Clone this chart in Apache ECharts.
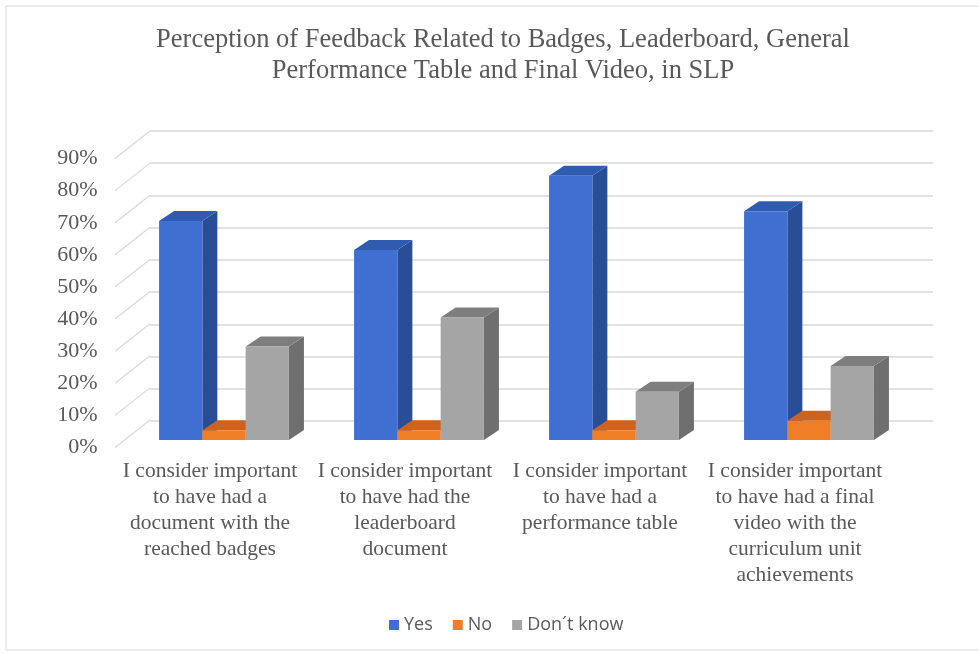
<!DOCTYPE html>
<html>
<head>
<meta charset="utf-8">
<script src="https://cdn.jsdelivr.net/npm/echarts@6/dist/echarts.min.js"></script>
<style>
html,body{margin:0;padding:0;background:#fff;}
#chart{width:979px;height:653px;}
</style>
</head>
<body>
<div id="chart"></div>
<script>
const categories = [
  "I consider important\nto have had a\ndocument with the\nreached badges",
  "I consider important\nto have had the\nleaderboard\ndocument",
  "I consider important\nto have had a\nperformance table",
  "I consider important\nto have had a final\nvideo with the\ncurriculum unit\nachievements"
];
const seriesNames = ["Yes", "No", "Don\u00b4t know"];
const yesValues = [68, 59, 82, 71];
const noValues = [3, 3, 3, 6];
const dontKnowValues = [29, 38, 15, 23];
const yTicks = [0, 10, 20, 30, 40, 50, 60, 70, 80, 90];

const DX = 15, DY = -10, BAR_FRAC = 0.222;
const palette = [
  {front: "#3F6FD0", side: "#2A4E96", top: "#2F5BB0"},
  {front: "#F07E26", side: "#C0591A", top: "#D0631C"},
  {front: "#A5A5A5", side: "#6F6F6F", top: "#7E7E7E"}
];

function makeBar(k) {
  const c = palette[k];
  return function (params, api) {
    const ci = api.value(0), v = api.value(1);
    const p = api.coord([ci, v]);
    const p0 = api.coord([ci, 0]);
    const bw = api.size([1, 0])[0] * BAR_FRAC;
    const x0 = p[0] + (k - 1.5) * bw, x1 = x0 + bw;
    const yT = p[1], yB = p0[1];
    return {
      type: "group",
      children: [
        {type: "polygon", shape: {points: [[x1, yT], [x1 + DX, yT + DY], [x1 + DX, yB + DY], [x1, yB]]}, style: {fill: c.side}},
        {type: "polygon", shape: {points: [[x0, yT], [x1, yT], [x1 + DX, yT + DY], [x0 + DX, yT + DY]]}, style: {fill: c.top}},
        {type: "rect", shape: {x: x0, y: yT, width: bw, height: yB - yT}, style: {fill: c.front}}
      ]
    };
  };
}

const valueSets = [yesValues, noValues, dontKnowValues];
const barSeries = seriesNames.map(function (name, k) {
  return {
    name: name,
    type: "custom",
    xAxisIndex: 0,
    yAxisIndex: 0,
    renderItem: makeBar(k),
    itemStyle: {color: palette[k].front},
    encode: {x: 0, y: 1},
    data: valueSets[k].map(function (v, i) { return [i, v]; }),
    z: 5
  };
});

const serif = "'Liberation Serif','Times New Roman',serif";
const labelColor = "#595959";

const option = {
  animation: false,
  backgroundColor: "#fff",
  title: {
    text: "Perception of Feedback Related to Badges, Leaderboard, General\nPerformance Table and Final Video, in SLP",
    left: 498,
    textAlign: "center",
    top: 20,
    textStyle: {fontFamily: serif, fontSize: 26.5, fontWeight: "normal", color: labelColor, lineHeight: 31}
  },
  legend: {
    data: seriesNames,
    top: 611,
    left: 384,
    icon: "rect",
    itemWidth: 10,
    itemHeight: 10,
    itemGap: 20,
    textStyle: {fontFamily: "'Open Sans',sans-serif", fontSize: 18, color: labelColor}
  },
  graphic: [{
    type: "rect",
    shape: {x: 6, y: 6, width: 1000, height: 644},
    style: {fill: "none", stroke: "#d9d9d9", lineWidth: 1},
    silent: true,
    z: -10
  }],
  grid: [
    {left: 126.5, top: 150, width: 780, height: 290},
    {left: 150, top: 131, width: 783, height: 290},
    {left: 112.5, top: 158.5, width: 780, height: 289}
  ],
  xAxis: [
    {gridIndex: 0, type: "category", data: categories, show: false},
    {gridIndex: 1, type: "value", min: 0, max: 1, show: false},
    {gridIndex: 2, type: "category", data: categories,
      axisLine: {show: false}, axisTick: {show: false},
      axisLabel: {fontFamily: serif, fontSize: 21.5, color: labelColor, lineHeight: 26, margin: 11, interval: 0}}
  ],
  yAxis: [
    {gridIndex: 0, type: "value", min: 0, max: 90, interval: 10, show: false},
    {gridIndex: 1, type: "value", min: 0, max: 90, interval: 10,
      axisLine: {show: false}, axisTick: {show: false}, axisLabel: {show: false},
      splitLine: {show: true, lineStyle: {color: "#d9d9d9", width: 1.5}}},
    {gridIndex: 2, type: "value", min: 0, max: 90, interval: 10,
      axisLine: {show: false}, axisTick: {show: false}, splitLine: {show: false},
      axisLabel: {fontFamily: serif, fontSize: 22, color: labelColor, margin: 15, formatter: "{value}%"}}
  ],
  series: [
    {
      type: "custom",
      xAxisIndex: 2,
      yAxisIndex: 2,
      silent: true,
      renderItem: function (params, api) {
        const p = api.coord([0, api.value(0)]);
        const fx = params.coordSys.x + 2.5;
        return {type: "line", shape: {x1: fx, y1: p[1], x2: fx + 35, y2: p[1] - 27.5},
          style: {stroke: "#d9d9d9", lineWidth: 1.2}};
      },
      encode: {y: 0},
      data: yTicks.map(function (t) { return [t]; }),
      z: 1
    }
  ].concat(barSeries)
};

const chart = echarts.init(document.getElementById("chart"), null, {renderer: "canvas"});
chart.setOption(option);
</script>
</body>
</html>
